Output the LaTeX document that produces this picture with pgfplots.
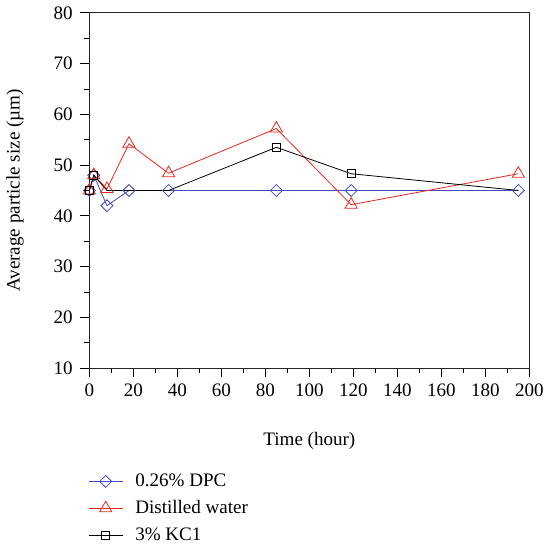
\documentclass[border=0pt]{standalone}
\usepackage{pgfplots}
\pgfplotsset{compat=1.18}
\usepackage{fontspec}
\setmainfont{Liberation Serif}
\definecolor{cblue}{RGB}{65,75,185}
\definecolor{cred}{RGB}{232,40,30}
\begin{document}
\fontsize{19}{22}\selectfont
\begin{tikzpicture}
\begin{axis}[
  scale only axis,
  width=437bp, height=353bp,
  xmin=0, xmax=200, ymin=10, ymax=80,
  xtick={0,20,...,200}, minor xtick={10,30,...,190},
  ytick={10,20,...,80}, minor ytick={15,25,...,75},
  tick pos=left,
  tick align=outside,
  major tick length=9bp, minor tick length=5bp,
  every tick/.style={black, line width=0.8pt},
  axis line style={line width=0.9pt, black!85},
  /pgf/number format/assume math mode=true,
  ticklabel style={font=\fontsize{19}{22}\selectfont},
  yticklabel style={xshift=-1bp},
  xlabel={Time (hour)}, ylabel={Average particle size (\textmu m)},
  label style={font=\fontsize{19}{22}\selectfont},
  xlabel style={yshift=-23bp},
  ylabel style={yshift=17bp},
  legend style={draw=none, at={(-0.01,-0.285)}, anchor=north west,
    font=\fontsize{19}{22}\selectfont, row sep=7bp, fill=none},
  legend cell align=left,
  legend image code/.code={\draw[#1, mark=none] (0bp,0bp) -- (34bp,0bp); \draw[#1] plot coordinates {(17bp,0bp)}; \path (44bp,0bp);},
]
\addplot[cblue, line width=0.8pt, mark=square, mark size=4.2bp, mark options={rotate=45, fill=white, solid}]
coordinates {(0,45) (2,48) (8,42) (18,45) (36,45) (85,45) (119,45) (195,45)};
\addlegendentry{0.26\% DPC}
\addplot[cred, line width=0.8pt, mark=triangle, mark size=7bp, mark options={fill=white, solid}]
coordinates {(0,45) (2,48) (8,45.3) (18,54.2) (36,48.4) (85,57.2) (119,42.2) (195,48.3)};
\addlegendentry{Distilled water}
\addplot[black, line width=0.8pt, mark=square, mark size=4bp, mark options={fill=white, solid}, mark indices={1,2,6,7}]
coordinates {(0,45) (2,48) (8,45) (18,45) (36,45) (85,53.5) (119,48.3) (195,45)};
\addlegendentry{3\% KC1}
\end{axis}
\end{tikzpicture}
\end{document}
